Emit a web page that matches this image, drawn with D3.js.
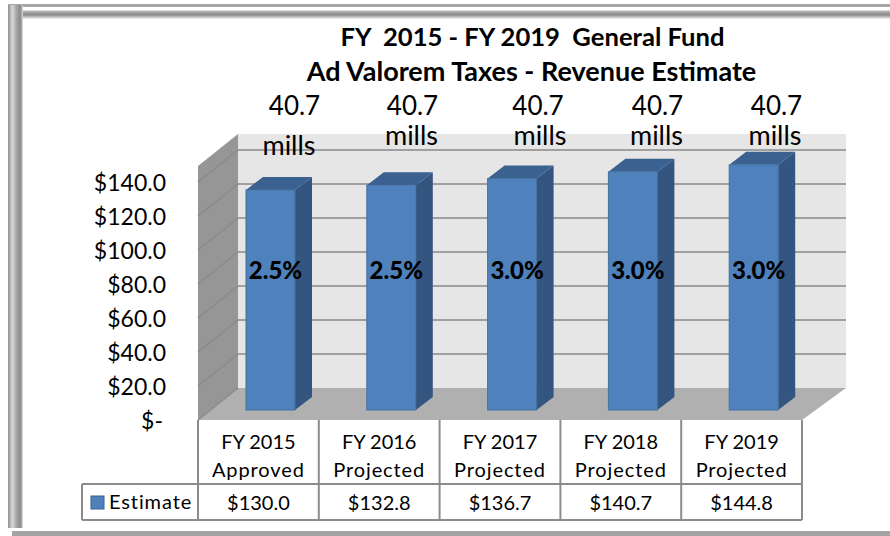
<!DOCTYPE html>
<html><head><meta charset="utf-8">
<script src="https://cdn.jsdelivr.net/npm/d3@7/dist/d3.min.js"></script>
<style>html,body{margin:0;padding:0;background:#fff}svg{display:block}text{font-family:Lato,"Noto Sans",sans-serif;fill:#000;white-space:pre}</style>
</head><body><div id="c"></div>
<script>
const titleLines = ["FY  2015 - FY 2019  General Fund", "Ad Valorem Taxes - Revenue Estimate"];
const categories = ["FY 2015", "FY 2016", "FY 2017", "FY 2018", "FY 2019"];
const statusLabels = ["Approved", "Projected", "Projected", "Projected", "Projected"];
const estimates = [130.0, 132.8, 136.7, 140.7, 144.8];
const growthLabels = ["2.5%", "2.5%", "3.0%", "3.0%", "3.0%"];
const millLabels = ["40.7", "40.7", "40.7", "40.7", "40.7"];
const millUnit = "mills";
const yTicks = [0, 20, 40, 60, 80, 100, 120, 140];
const seriesName = "Estimate";

const W = 890, H = 536;
const svg = d3.select("#c").append("svg").attr("width", W).attr("height", H);

// frame
const defs = svg.append("defs");
function grad(id, x2, y2, stops) {
  const g = defs.append("linearGradient").attr("id", id).attr("x1", 0).attr("y1", 0).attr("x2", x2).attr("y2", y2);
  stops.forEach(s => g.append("stop").attr("offset", s[0]).attr("stop-color", s[1]));
}
grad("bandH", 0, 1, [[0, "#f0f0f0"], [.2, "#a8a8a8"], [.55, "#8c8c8c"], [1, "#f4f4f4"]]);
grad("bandV", 1, 0, [[0, "#909090"], [.15, "#b4b4b4"], [.3, "#d6d6d6"], [.55, "#a8a8a8"], [.8, "#8a8a8a"], [.93, "#b0b0b0"], [1, "#f4f4f4"]]);
svg.append("rect").attr("x", 8).attr("y", 4).attr("width", W - 8).attr("height", 3).attr("fill", "#a6a6a6");
svg.append("rect").attr("x", 17).attr("y", 10).attr("width", W - 17).attr("height", 9).attr("fill", "url(#bandH)");
svg.append("rect").attr("x", 8).attr("y", 5).attr("width", 15).attr("height", 523).attr("fill", "url(#bandV)");
svg.append("rect").attr("x", 12).attr("y", 531).attr("width", W - 12).attr("height", 5).attr("fill", "#a4a4a4");

// scales
const x = d3.scaleBand().domain(categories).range([198, 802]);
const yFront = d3.scaleLinear().domain([0, 140]).range([420, 182]);
const yBack = d3.scaleLinear().domain([0, 140]).range([388, 150]);
const yBar = d3.scaleLinear().domain([0, 140]).range([410, 173]);
const wallDx = 40, wallTop = 134, wallRight = 846;
const barW = 49, barDx = 17, barDy = 13;

// walls
const g3 = svg.append("g");
g3.append("rect").attr("x", x.range()[0] + wallDx).attr("y", wallTop)
  .attr("width", wallRight - x.range()[0] - wallDx).attr("height", yBack(0) - wallTop).attr("fill", "#e6e6e6");
g3.append("path").attr("d", d3.line()([
  [x.range()[0], wallTop + (yFront(0) - yBack(0))], [x.range()[0] + wallDx, wallTop],
  [x.range()[0] + wallDx, yBack(0)], [x.range()[0], yFront(0)]
])).attr("fill", "#969696");
g3.append("path").attr("d", d3.line()([
  [x.range()[0], yFront(0)], [x.range()[0] + wallDx, yBack(0)], [wallRight, yBack(0)], [x.range()[1], yFront(0)]
])).attr("fill", "#b0b0b0");

// gridlines
yTicks.forEach(t => {
  if (t > 0) g3.append("line").attr("x1", x.range()[0] + wallDx).attr("x2", wallRight)
    .attr("y1", yBack(t)).attr("y2", yBack(t)).attr("stroke", "#a0a0a0").attr("stroke-width", 2);
  g3.append("line").attr("x1", x.range()[0]).attr("x2", x.range()[0] + wallDx)
    .attr("y1", yFront(t)).attr("y2", yBack(t)).attr("stroke", "#8a8a8a").attr("stroke-width", 1.5);
});

// mills labels
const millG = svg.append("g").attr("text-anchor", "middle");
const numX = [294.5, 412.5, 538, 657.5, 776.5];
const unitX = [289, 411.5, 540, 656.5, 775];
const unitY = [155, 145, 145, 145, 145];
categories.forEach((c, i) => {
  millG.append("text").attr("x", numX[i]).attr("y", 115).attr("font-size", 26).text(millLabels[i]);
  millG.append("text").attr("x", unitX[i]).attr("y", unitY[i]).attr("font-size", 27).text(millUnit);
});

// bars
const bars = svg.append("g").selectAll("g").data(estimates).join("g");
const bx = (d, i) => x(categories[i]) + 48;
bars.append("path").attr("fill", "#34557f").attr("d", (d, i) => d3.line()([
  [bx(d, i) + barW, yBar(d)], [bx(d, i) + barW + barDx, yBar(d) - barDy],
  [bx(d, i) + barW + barDx, yBar(0) - barDy], [bx(d, i) + barW, yBar(0)]
]));
bars.append("path").attr("fill", "#3a6190").attr("d", (d, i) => d3.line()([
  [bx(d, i), yBar(d)], [bx(d, i) + barDx, yBar(d) - barDy],
  [bx(d, i) + barW + barDx, yBar(d) - barDy], [bx(d, i) + barW, yBar(d)]
]));
bars.append("rect").attr("x", bx).attr("y", d => yBar(d)).attr("width", barW)
  .attr("height", d => yBar(0) - yBar(d)).attr("fill", "#4f81bd").attr("stroke", "#44719f").attr("stroke-width", 1);

// percent labels
svg.append("g").attr("font-size", 24).attr("font-weight", 900).attr("text-anchor", "middle")
  .selectAll("text").data(growthLabels).join("text")
  .attr("x", (d, i) => bx(0, i) + 29.5).attr("y", 279).text(d => d);

// title
svg.append("g").attr("font-weight", 700).attr("text-anchor", "middle")
  .selectAll("text").data(titleLines).join("text")
  .attr("x", (d, i) => i ? 531.5 : 532.5).attr("y", (d, i) => 46 + i * 35)
  .attr("font-size", (d, i) => i ? 27 : 25.6).text(d => d);

// y axis labels
svg.append("g").attr("font-size", 23).attr("text-anchor", "end")
  .selectAll("text").data(yTicks).join("text")
  .attr("x", 166).attr("y", d => yFront(d) + 9)
  .text(d => d === 0 ? "$-" : "$" + d3.format(".1f")(d))
  .attr("dx", d => d === 0 ? -3 : 0);

// table
const table = svg.append("g");
const line = (x1, y1, x2, y2, w) => table.append("line").attr("x1", x1).attr("y1", y1).attr("x2", x2).attr("y2", y2)
  .attr("stroke", "#8c8c8c").attr("stroke-width", w || 2);
const rowTop = yFront(0), rowMid = 484, rowBot = 520;
line(82, rowMid, x.range()[1], rowMid);
line(82, rowBot, x.range()[1], rowBot);
line(82, rowMid, 82, rowBot);
x.domain().forEach(c => line(x(c), rowTop, x(c), rowBot));
line(x.range()[1], rowTop, x.range()[1], rowBot);
const tt = svg.append("g").attr("font-size", 20).attr("text-anchor", "middle");
categories.forEach((c, i) => {
  const cx = x(c) + x.bandwidth() / 2;
  tt.append("text").attr("x", cx).attr("y", 449).text(c);
  tt.append("text").attr("x", cx).attr("y", 477).attr("letter-spacing", 0.9).text(statusLabels[i]);
  tt.append("text").attr("x", cx).attr("y", 510).text("$" + d3.format(".1f")(estimates[i]));
});
svg.append("rect").attr("x", 91).attr("y", 496).attr("width", 13).attr("height", 13).attr("fill", "#4f81bd").attr("stroke", "#3a6190");
svg.append("text").attr("x", 109).attr("y", 509).attr("font-size", 20).attr("letter-spacing", 0.9).text(seriesName);
</script></body></html>
